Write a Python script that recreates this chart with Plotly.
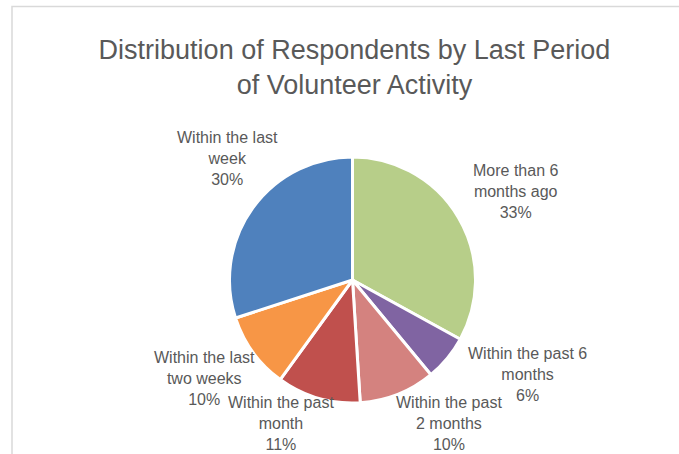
import plotly.graph_objects as go

categories = [
    "More than 6<br>months ago",
    "Within the past 6<br>months",
    "Within the past<br>2 months",
    "Within the past<br>month",
    "Within the last<br>two weeks",
    "Within the last<br>week",
]
values = [33, 6, 10, 11, 10, 30]
colors = ["#B7CE89", "#8064A2", "#D4827F", "#C0504D", "#F79646", "#4F81BD"]

# data-label centre positions (pixels, layout only)
label_xy = [(515, 192), (527, 374), (449, 423), (281, 423), (204, 378), (228, 159)]

W, H = 679, 454
cx, cy, r = 352.5, 280, 123
FONT = "Liberation Sans, Arial, sans-serif"
GREY = "#595959"

fig = go.Figure(go.Pie(
    labels=categories,
    values=values,
    sort=False,
    direction="clockwise",
    rotation=0,
    marker=dict(colors=colors, line=dict(color="white", width=3)),
    textinfo="none",
    hoverinfo="label+percent",
    showlegend=False,
    domain=dict(x=[(cx - r) / W, (cx + r) / W], y=[1 - (cy + r) / H, 1 - (cy - r) / H]),
))

total = sum(values)
annotations = []
for lab, v, (lx, ly) in zip(categories, values, label_xy):
    annotations.append(dict(
        text=f"{lab}<br>{round(100 * v / total)}%",
        x=lx / W, y=1 - ly / H, xref="paper", yref="paper",
        xanchor="center", yanchor="middle", align="center", showarrow=False,
        font=dict(family=FONT, size=16, color=GREY),
    ))

fig.update_layout(
    width=W, height=H,
    margin=dict(l=0, r=0, t=0, b=0),
    paper_bgcolor="white",
    title=dict(
        text="Distribution of Respondents by Last Period<br>of Volunteer Activity",
        x=354.5 / W, xanchor="center", y=1 - 58.5 / H, yanchor="middle",
        font=dict(family=FONT, size=27, color=GREY),
    ),
    annotations=annotations,
    shapes=[dict(type="rect", xref="paper", yref="paper",
                 x0=12 / W, x1=1.2, y0=-0.2, y1=1 - 6.5 / H,
                 line=dict(color="#D9D9D9", width=1.5), fillcolor="rgba(0,0,0,0)")],
)

fig.write_html("out.html")
